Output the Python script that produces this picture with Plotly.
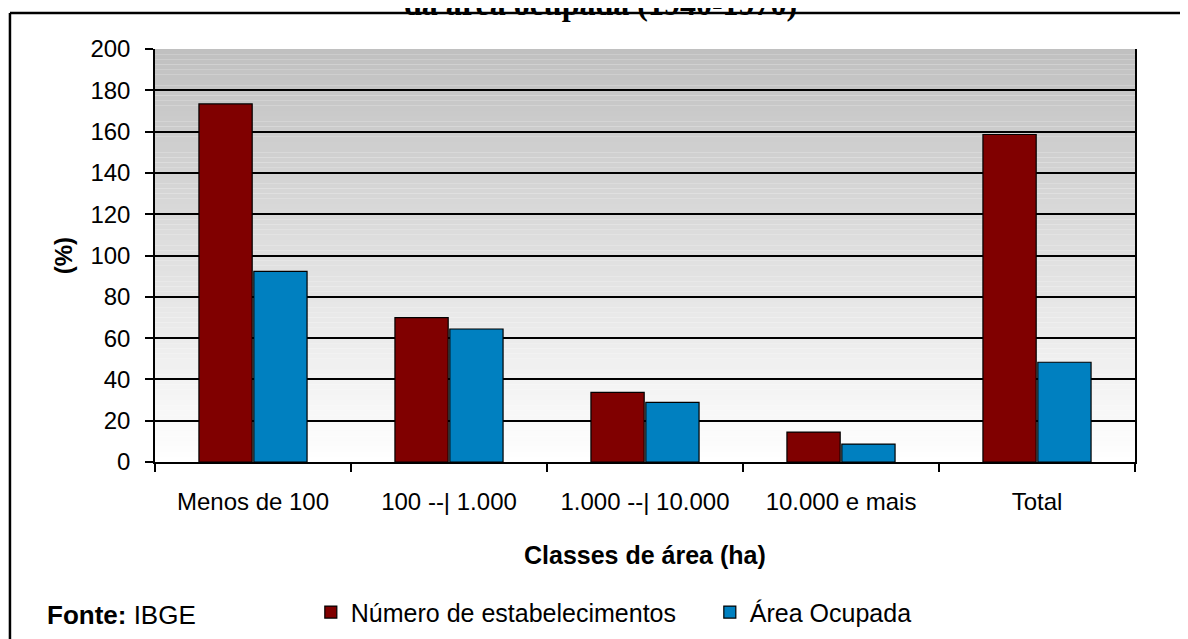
import plotly.graph_objects as go

categories = ["Menos de 100", "100 --| 1.000", "1.000 --| 10.000", "10.000 e mais", "Total"]
estabelecimentos = [173.4, 69.9, 33.7, 14.5, 158.6]
area_ocupada = [92.3, 64.4, 28.9, 8.7, 48.3]

RED = "#800000"
BLUE = "#0080c0"
FONT = "Liberation Sans, Arial, sans-serif"

fig = go.Figure()
fig.add_trace(go.Bar(
    x=categories, y=estabelecimentos, name="Número de estabelecimentos",
    marker=dict(color=RED, line=dict(color="black", width=1.2)),
))
fig.add_trace(go.Bar(
    x=categories, y=area_ocupada, name="Área Ocupada",
    marker=dict(color=BLUE, line=dict(color="black", width=1.2)),
))

# gradient background of the plot area (gray at top, white at bottom)
shapes = []
n = 80
for i in range(n):
    shade = int(round(255 - (255 - 192) * (i + 0.5) / n))
    shapes.append(dict(
        type="rect", xref="x domain", yref="y domain", layer="below",
        x0=0, x1=1, y0=i / n, y1=(i + 1) / n,
        fillcolor=f"rgb({shade},{shade},{shade})", line=dict(width=0),
    ))

# outer frame
frame = dict(color="black", width=2.5)
shapes.append(dict(type="line", xref="paper", yref="paper", x0=-0.148, x1=1.052,
                   y0=1.087, y1=1.087, line=frame))
shapes.append(dict(type="line", xref="paper", yref="paper", x0=-0.148, x1=-0.148,
                   y0=1.087, y1=-0.5, line=frame))
shapes.append(dict(type="line", xref="paper", yref="paper", x0=1.052, x1=1.052,
                   y0=1.087, y1=-0.5, line=frame))

fig.update_layout(
    width=1188, height=639,
    # page body adds 8px, so margins are shifted by 8px
    margin=dict(l=147, r=61, t=41, b=183),
    paper_bgcolor="white",
    plot_bgcolor="rgba(0,0,0,0)",
    font=dict(family=FONT, size=24, color="black"),
    barmode="group", bargap=0.44, bargroupgap=0.03,
    shapes=shapes,
    showlegend=True,
    legend=dict(orientation="h", x=0.159, y=-0.364, xanchor="left", yanchor="middle",
                font=dict(size=25), itemwidth=30, entrywidth=354,
                bgcolor="rgba(0,0,0,0)"),
    annotations=[
        dict(text="<b>da área ocupada (1940-1970)</b>", xref="paper", yref="paper",
             x=0.455, y=1.061, xanchor="center", yanchor="bottom", showarrow=False,
             font=dict(family="Liberation Serif, DejaVu Serif, serif", size=32)),
        dict(text="<b>Classes de área (ha)</b>", xref="paper", yref="paper",
             x=0.5, y=-0.224, xanchor="center", yanchor="middle", showarrow=False,
             font=dict(size=25)),
        dict(text="<b>(%)</b>", xref="paper", yref="paper", textangle=-90,
             x=-0.093, y=0.5, xanchor="center", yanchor="middle", showarrow=False),
        dict(text="<b>Fonte:</b> IBGE", xref="paper", yref="paper",
             x=-0.112, y=-0.371, xanchor="left", yanchor="middle", showarrow=False,
             font=dict(size=26)),
    ],
)
fig.update_xaxes(
    tickson="boundaries", ticks="outside", ticklen=8, tickcolor="black", tickwidth=1.5,
    ticklabelstandoff=17,
    showline=True, linecolor="black", linewidth=1.5,
    showgrid=False,
)
fig.update_yaxes(
    range=[0, 200], dtick=20, ticks="outside", ticklen=8, tickcolor="black", tickwidth=1.5,
    ticklabelstandoff=10,
    showline=True, linecolor="black", linewidth=1.5, mirror=True,
    showgrid=True, gridcolor="black", gridwidth=1.5,
    zeroline=False,
)

fig.write_html("out.html")
